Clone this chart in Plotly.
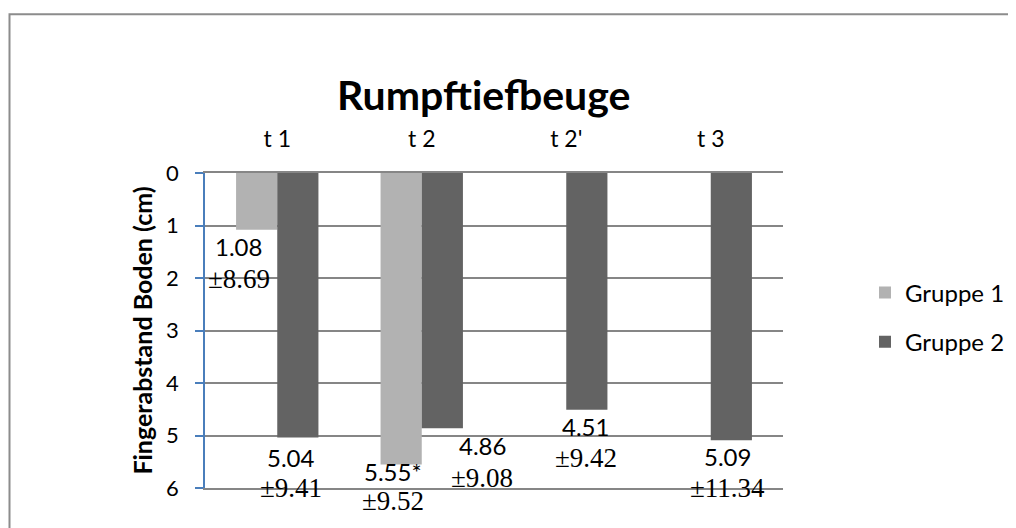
import plotly.graph_objects as go

# ---- data ----
categories = ["t 1", "t 2", "t 2'", "t 3"]
g1_values = [1.08, 5.55, None, None]
g1_sd = [8.69, 9.52, None, None]
g1_mark = ["", "*", "", ""]
g2_values = [5.04, 4.86, 4.51, 5.09]
g2_sd = [9.41, 9.08, 9.42, 11.34]
g2_mark = ["", "", "", ""]
y_ticks = [0, 1, 2, 3, 4, 5, 6]

# ---- styling / layout constants ----
OFF = 8  # page body margin
W, H = 1016 - OFF, 528 - OFF
ML = 205 - OFF
MT = 172.5 - OFF
MR = W - (783 - OFF)
MB = H - (488 - OFF)
BARGAP = 0.43
C1, C2 = "#b2b2b2", "#636363"
SANS = "Lato, Calibri, sans-serif"
SERIF = "Liberation Serif, Times New Roman, serif"

# manual label nudges (px): (dx, dy_number, dy_sd)
g1_nudge = [(-18, 17, 49), (-8, 7, 37), None, None]
g2_nudge = [(-7, 20, 50), (40, 17, 50), (-1, 17, 48), (-4, 16, 48)]

plot_w = W - ML - MR
plot_h = H - MT - MB
cat_px = plot_w / len(categories)
bar_px = cat_px * (1 - BARGAP) / 2
offsets = [-bar_px / 2, bar_px / 2]

fig = go.Figure()
fig.add_trace(go.Bar(x=categories, y=g1_values, name="Gruppe 1",
                     marker=dict(color=C1, line=dict(width=0)), legendgroup="a"))
fig.add_trace(go.Bar(x=categories, y=g2_values, name="Gruppe 2",
                     marker=dict(color=C2, line=dict(width=0)), legendgroup="b"))

annotations = []
for vals, sds, marks, nudges, off in [
    (g1_values, g1_sd, g1_mark, g1_nudge, offsets[0]),
    (g2_values, g2_sd, g2_mark, g2_nudge, offsets[1]),
]:
    for cat, v, sd, mk, nd in zip(categories, vals, sds, marks, nudges):
        if v is None:
            continue
        dx, dy1, dy2 = nd
        annotations.append(dict(x=cat, y=v, xref="x", yref="y", showarrow=False,
                                text=f"{v:.2f}{mk}", xshift=off + dx, yshift=-dy1,
                                xanchor="center", yanchor="middle",
                                font=dict(family=SANS, size=24, color="#000")))
        annotations.append(dict(x=cat, y=v, xref="x", yref="y", showarrow=False,
                                text=f"±{sd:.2f}", xshift=off + dx, yshift=-dy2,
                                xanchor="center", yanchor="middle",
                                font=dict(family=SERIF, size=27, color="#000")))

annotations.append(dict(text="<b>Rumpftiefbeuge</b>", xref="paper", yref="paper",
                        x=(483 - OFF - ML) / plot_w, y=1 + (MT - (94 - OFF)) / plot_h,
                        xanchor="center", yanchor="middle", showarrow=False,
                        font=dict(family=SANS, size=41, color="#000")))

fig.update_layout(
    width=W, height=H,
    margin=dict(l=ML, r=MR, t=MT, b=MB, autoexpand=False),
    paper_bgcolor="white", plot_bgcolor="white",
    barmode="group", bargap=BARGAP, bargroupgap=0,
    font=dict(family=SANS, color="#000"),
    showlegend=True,
    legend=dict(x=(865 - OFF - ML) / plot_w, y=1 - (270 - OFF - MT) / plot_h,
                xanchor="left", yanchor="top",
                font=dict(family=SANS, size=24, color="#000"),
                tracegroupgap=15, traceorder="grouped", bgcolor="rgba(0,0,0,0)"),
    annotations=annotations,
    shapes=[dict(type="rect", xref="paper", yref="paper",
                 x0=(9.5 - OFF - ML) / plot_w, x1=2.0,
                 y0=-1.0, y1=1 + (MT - (13.5 - OFF)) / plot_h,
                 line=dict(color="#8c8c8c", width=2), fillcolor="rgba(0,0,0,0)",
                 layer="below")],
)
fig.update_xaxes(side="top", showline=True, mirror=True, linecolor="#868686",
                 linewidth=1.5, showgrid=False, ticks="",
                 tickfont=dict(family=SANS, size=23, color="#000"),
                 ticklabelstandoff=15, fixedrange=True)
fig.update_yaxes(range=[6, 0], tickvals=y_ticks, showgrid=True,
                 gridcolor="#868686", gridwidth=1.5, zeroline=False,
                 showline=True, linecolor="#4a7ebb", linewidth=1.5,
                 ticks="outside", ticklen=8, tickcolor="#4a7ebb", tickwidth=1.5,
                 tickfont=dict(family=SANS, size=22, color="#000"),
                 ticklabelstandoff=12,
                 title=dict(text="<b>Fingerabstand Boden (cm)</b>", standoff=6,
                            font=dict(family=SANS, size=25, color="#000")))

fig.write_html("out.html")
